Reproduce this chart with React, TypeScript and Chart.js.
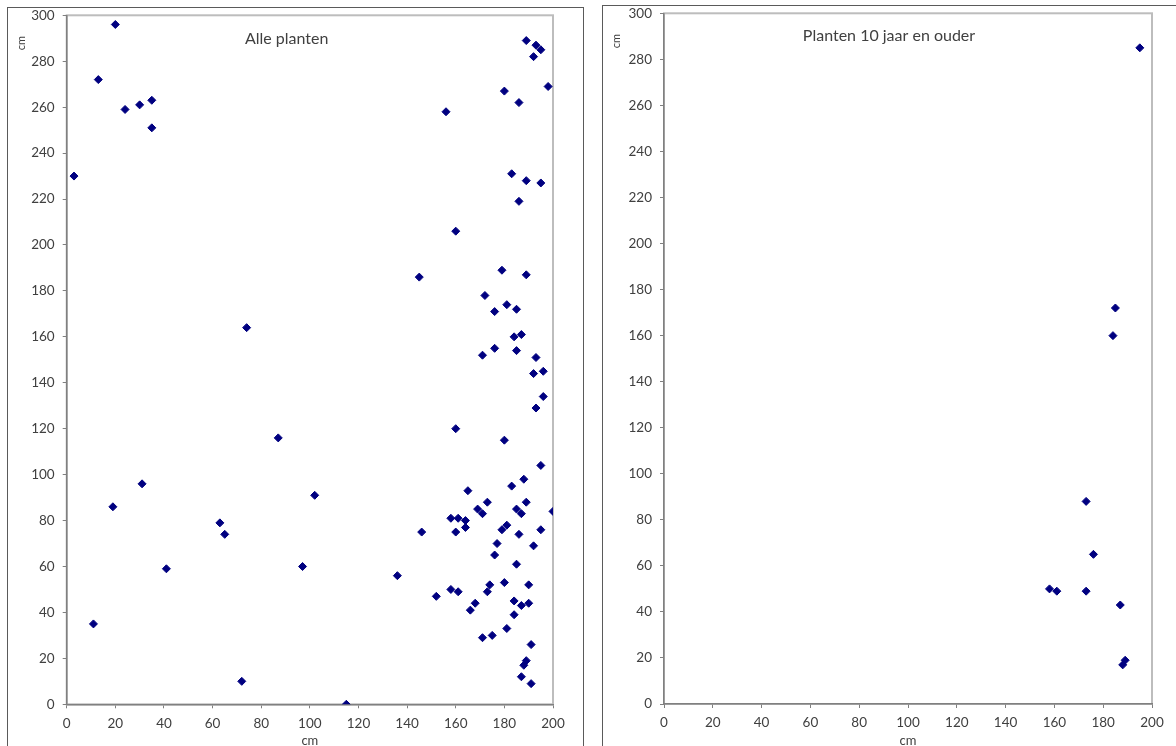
import React, { useEffect, useRef } from 'react';
import { Chart, registerables } from 'chart.js';

Chart.register(...registerables);

// All plants: width (cm) vs height (cm)
const allX = [3, 13, 20, 24, 30, 35, 35, 11, 19, 31, 41, 63, 65, 72, 74, 87, 97, 102, 115, 136, 145, 146, 152, 156, 158, 158, 160, 160, 160, 161, 161, 164, 164, 165, 166, 168, 169, 171, 171, 171, 172, 173, 173, 174, 175, 176, 176, 176, 177, 179, 179, 180, 180, 180, 181, 181, 181, 183, 183, 184, 184, 184, 185, 185, 185, 185, 186, 186, 186, 187, 187, 187, 187, 188, 188, 189, 189, 189, 189, 189, 190, 190, 191, 191, 192, 192, 192, 193, 193, 193, 195, 195, 195, 195, 196, 196, 198, 200];
const allY = [230, 272, 296, 259, 261, 263, 251, 35, 86, 96, 59, 79, 74, 10, 164, 116, 60, 91, 0, 56, 186, 75, 47, 258, 81, 50, 206, 120, 75, 81, 49, 80, 77, 93, 41, 44, 85, 83, 152, 29, 178, 88, 49, 52, 30, 171, 155, 65, 70, 189, 76, 267, 115, 53, 174, 78, 33, 231, 95, 160, 45, 39, 172, 154, 85, 61, 262, 219, 74, 161, 83, 43, 12, 98, 17, 289, 228, 187, 88, 19, 52, 44, 26, 9, 282, 144, 69, 287, 151, 129, 285, 227, 104, 76, 145, 134, 269, 84];

// Plants 10 years and older
const oldX = [158, 161, 173, 173, 176, 184, 185, 187, 188, 189, 195];
const oldY = [50, 49, 49, 88, 65, 160, 172, 43, 17, 19, 285];

const xMin = 0;
const xMax = 200;
const xStep = 20;
const yMin = 0;
const yMax = 300;
const yStep = 20;

const axisTitle = 'cm';
const leftTitle = 'Alle planten';
const rightTitle = 'Planten 10 jaar en ouder';

const TEXT = '#404040';
const FONT = 'Lato, "Open Sans", sans-serif';

type Area = { left: number; top: number; right: number; bottom: number };

type PanelProps = {
  xs: number[];
  ys: number[];
  title: string;
  titleDx: number;
  titleY: number;
  width: number;
  height: number;
  area: Area;
};

function Panel({ xs, ys, title, titleDx, titleY, width, height, area }: PanelProps) {
  const ref = useRef<HTMLCanvasElement | null>(null);
  useEffect(() => {
    if (!ref.current) return;
    const points = xs.map((x, i) => ({ x, y: ys[i] }));

    const framePlugin = {
      id: 'frame',
      beforeDraw(chart: any) {
        const { ctx, chartArea: a } = chart;
        ctx.save();
        ctx.strokeStyle = '#bdbdbd';
        ctx.lineWidth = 2;
        ctx.strokeRect(a.left, a.top, a.right - a.left, a.bottom - a.top);
        ctx.restore();
      },
      afterDraw(chart: any) {
        const { ctx, chartArea: a } = chart;
        ctx.save();
        ctx.fillStyle = TEXT;
        ctx.textAlign = 'center';
        ctx.textBaseline = 'middle';
        ctx.font = `16px ${FONT}`;
        ctx.fillText(title, a.left + titleDx, titleY);
        ctx.font = `13px ${FONT}`;
        ctx.fillText(axisTitle, (a.left + a.right) / 2, a.bottom + 37);
        ctx.translate(13, 35);
        ctx.rotate(-Math.PI / 2);
        ctx.font = `11px ${FONT}`;
        ctx.fillText(axisTitle, 0, 0);
        ctx.restore();
      },
    };

    const chart = new Chart(ref.current, {
      type: 'scatter',
      data: {
        datasets: [
          {
            data: points,
            pointStyle: 'rectRot',
            pointRadius: 4,
            pointBorderWidth: 1,
            backgroundColor: '#000080',
            borderColor: '#000080',
            showLine: false,
          },
        ],
      },
      options: {
        animation: false,
        responsive: false,
        maintainAspectRatio: false,
        devicePixelRatio: 1,
        layout: {
          padding: { left: 0, top: area.top, right: width - area.right, bottom: 0 },
        },
        plugins: {
          legend: { display: false },
          tooltip: { enabled: false },
        },
        scales: {
          x: {
            type: 'linear',
            min: xMin,
            max: xMax,
            afterFit(scale: any) {
              scale.height = height - area.bottom;
              scale.paddingLeft = 0;
              scale.paddingRight = 0;
              scale.paddingTop = 0;
              scale.paddingBottom = 0;
            },
            ticks: {
              stepSize: xStep,
              color: TEXT,
              font: { family: FONT, size: 13.5 },
              padding: 7,
              maxRotation: 0,
              autoSkip: false,
            },
            grid: {
              drawOnChartArea: false,
              drawTicks: true,
              tickLength: 4,
              color: '#808080',
            },
            border: { display: true, color: '#808080', width: 1.5 },
          },
          y: {
            type: 'linear',
            min: yMin,
            max: yMax,
            afterFit(scale: any) {
              scale.width = area.left;
              scale.paddingLeft = 0;
              scale.paddingRight = 0;
              scale.paddingTop = 0;
              scale.paddingBottom = 0;
            },
            ticks: {
              stepSize: yStep,
              color: TEXT,
              font: { family: FONT, size: 13.5 },
              padding: 8,
              autoSkip: false,
            },
            grid: {
              drawOnChartArea: false,
              drawTicks: true,
              tickLength: 4,
              color: '#808080',
            },
            border: { display: true, color: '#808080', width: 1.5 },
          },
        },
      },
      plugins: [framePlugin],
    } as any);
    return () => chart.destroy();
  }, [xs, ys, title, titleDx, titleY, width, height, area]);

  return <canvas ref={ref} width={width} height={height} style={{ display: 'block', width, height }} />;
}

const leftArea: Area = { left: 58.7, top: 7.3, right: 545, bottom: 696.3 };
const rightArea: Area = { left: 61, top: 7.3, right: 549, bottom: 698 };

export default function App() {
  return (
    <div
      style={{
        position: 'fixed',
        left: 0,
        top: 0,
        width: 1176,
        height: 746,
        overflow: 'hidden',
        background: '#ffffff',
      }}
    >
      <div
        style={{
          position: 'absolute',
          left: 7,
          top: 7,
          width: 575,
          height: 760,
          border: '1px solid #5a5a5a',
          background: '#ffffff',
        }}
      >
        <Panel xs={allX} ys={allY} title={leftTitle} titleDx={220} titleY={31} width={575} height={738} area={leftArea} />
      </div>
      <div
        style={{
          position: 'absolute',
          left: 602,
          top: 5,
          width: 600,
          height: 760,
          border: '1px solid #5a5a5a',
          background: '#ffffff',
        }}
      >
        <Panel xs={oldX} ys={oldY} title={rightTitle} titleDx={225} titleY={30} width={573} height={740} area={rightArea} />
      </div>
    </div>
  );
}
